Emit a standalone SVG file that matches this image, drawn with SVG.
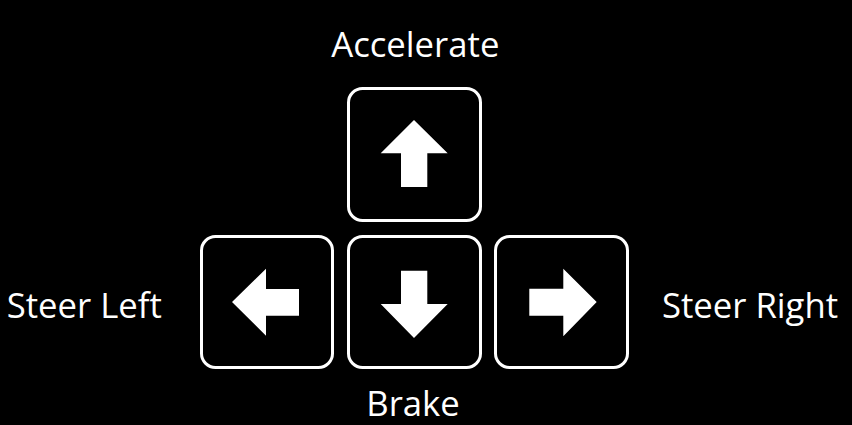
<svg xmlns="http://www.w3.org/2000/svg" width="852" height="425" viewBox="0 0 852 425">
<style>
.key{fill:#000;stroke:#fff;stroke-width:3}
.arrow{fill:#fff}
.lbl{fill:#fff;font-family:"Open Sans","Noto Sans",sans-serif;font-size:34.7px}
</style>
<rect width="852" height="425" fill="#000"/>
<g id="up">
<rect class="key" x="348.5" y="88.5" width="132" height="132" rx="14"/>
<polygon class="arrow" points="414,120 447.7,153.3 427.3,153.3 427.3,187 401,187 401,153.3 380.7,153.3"/>
</g>
<g id="left">
<rect class="key" x="201.5" y="236.5" width="131" height="131" rx="14"/>
<polygon class="arrow" points="232,302 266,268.7 266,289 299,289 299,315.7 266,315.7 266,335.7"/>
</g>
<g id="down">
<rect class="key" x="348.5" y="236.5" width="132" height="131" rx="14"/>
<polygon class="arrow" points="401,270.7 427.3,270.7 427.3,304 447.7,304 414,338 380.7,304 401,304"/>
</g>
<g id="right">
<rect class="key" x="495.5" y="236.5" width="132" height="131" rx="14"/>
<polygon class="arrow" points="596.7,302 563.3,268.7 563.3,288.7 529.3,288.7 529.3,315.7 563.3,315.7 563.3,336.3"/>
</g>
<g id="labels">
<text class="lbl" x="415.3" y="57.3" text-anchor="middle">Accelerate</text>
<text class="lbl" x="84.3" y="318.3" text-anchor="middle">Steer Left</text>
<text class="lbl" x="750" y="318.3" text-anchor="middle">Steer Right</text>
<text class="lbl" x="413" y="416" text-anchor="middle">Brake</text>
</g>
<g id="connectors"></g>
</svg>
